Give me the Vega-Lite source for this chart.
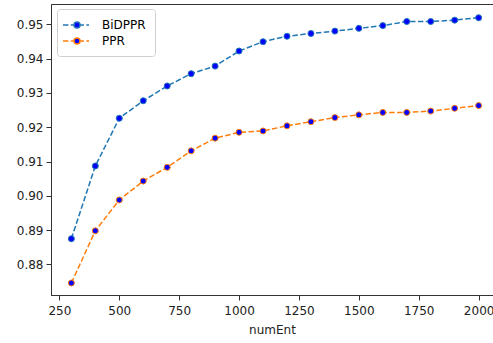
{
  "$schema": "https://vega.github.io/schema/vega-lite/v6.json",
  "width": 442,
  "height": 291,
  "autosize": "none",
  "padding": {"left": 51, "top": 4, "right": 0, "bottom": 48},
  "background": "white",
  "config": {
    "font": "DejaVu Sans",
    "view": {"stroke": "#333", "strokeWidth": 1},
    "axis": {
      "domainColor": "#333",
      "tickColor": "#333",
      "tickSize": 5,
      "labelFontSize": 12,
      "labelColor": "#222",
      "titleFontSize": 12,
      "titleFontWeight": "normal",
      "titleColor": "#222",
      "labelPadding": 3,
      "grid": false
    }
  },
  "data": {
    "values": [
      {"numEnt": 300, "value": 0.8875, "series": "BiDPPR"},
      {"numEnt": 400, "value": 0.9087, "series": "BiDPPR"},
      {"numEnt": 500, "value": 0.9226, "series": "BiDPPR"},
      {"numEnt": 600, "value": 0.9277, "series": "BiDPPR"},
      {"numEnt": 700, "value": 0.9320, "series": "BiDPPR"},
      {"numEnt": 800, "value": 0.9356, "series": "BiDPPR"},
      {"numEnt": 900, "value": 0.9378, "series": "BiDPPR"},
      {"numEnt": 1000, "value": 0.9422, "series": "BiDPPR"},
      {"numEnt": 1100, "value": 0.9449, "series": "BiDPPR"},
      {"numEnt": 1200, "value": 0.9465, "series": "BiDPPR"},
      {"numEnt": 1300, "value": 0.9473, "series": "BiDPPR"},
      {"numEnt": 1400, "value": 0.9480, "series": "BiDPPR"},
      {"numEnt": 1500, "value": 0.9488, "series": "BiDPPR"},
      {"numEnt": 1600, "value": 0.9496, "series": "BiDPPR"},
      {"numEnt": 1700, "value": 0.9508, "series": "BiDPPR"},
      {"numEnt": 1800, "value": 0.9508, "series": "BiDPPR"},
      {"numEnt": 1900, "value": 0.9512, "series": "BiDPPR"},
      {"numEnt": 2000, "value": 0.9519, "series": "BiDPPR"},
      {"numEnt": 300, "value": 0.8746, "series": "PPR"},
      {"numEnt": 400, "value": 0.8898, "series": "PPR"},
      {"numEnt": 500, "value": 0.8988, "series": "PPR"},
      {"numEnt": 600, "value": 0.9043, "series": "PPR"},
      {"numEnt": 700, "value": 0.9083, "series": "PPR"},
      {"numEnt": 800, "value": 0.9131, "series": "PPR"},
      {"numEnt": 900, "value": 0.9168, "series": "PPR"},
      {"numEnt": 1000, "value": 0.9185, "series": "PPR"},
      {"numEnt": 1100, "value": 0.9189, "series": "PPR"},
      {"numEnt": 1200, "value": 0.9204, "series": "PPR"},
      {"numEnt": 1300, "value": 0.9216, "series": "PPR"},
      {"numEnt": 1400, "value": 0.9228, "series": "PPR"},
      {"numEnt": 1500, "value": 0.9236, "series": "PPR"},
      {"numEnt": 1600, "value": 0.9243, "series": "PPR"},
      {"numEnt": 1700, "value": 0.9243, "series": "PPR"},
      {"numEnt": 1800, "value": 0.9247, "series": "PPR"},
      {"numEnt": 1900, "value": 0.9255, "series": "PPR"},
      {"numEnt": 2000, "value": 0.9263, "series": "PPR"}
    ]
  },
  "encoding": {
    "x": {
      "field": "numEnt",
      "type": "quantitative",
      "scale": {"domain": [215, 2060], "nice": false, "zero": false},
      "axis": {"values": [250, 500, 750, 1000, 1250, 1500, 1750, 2000], "title": "numEnt", "titlePadding": 8, "labelPadding": 5, "format": "d"}
    },
    "y": {
      "field": "value",
      "type": "quantitative",
      "scale": {"domain": [0.8711, 0.9559], "nice": false, "zero": false},
      "axis": {"values": [0.88, 0.89, 0.90, 0.91, 0.92, 0.93, 0.94, 0.95], "format": ".2f", "title": null}
    },
    "stroke": {
      "field": "series",
      "type": "nominal",
      "scale": {"domain": ["BiDPPR", "PPR"], "range": ["#1f77b4", "#ff7f0e"]},
      "legend": {
        "title": null,
        "orient": "none",
        "legendX": 6,
        "legendY": 5,
        "fillColor": "rgba(255,255,255,0.8)",
        "strokeColor": "#d0d0d0",
        "cornerRadius": 3,
        "padding": 9,
        "labelFontSize": 12,
        "labelColor": "#000",
        "labelOffset": 22,
        "rowPadding": 3,
        "symbolType": "M-1.67,0H-0.77M-0.37,0H0.13M1.23,0H1.83M2.23,0H2.67M1.17,0A0.5,0.5 0 1,1 0.17,0A0.5,0.5 0 1,1 1.17,0Z",
        "symbolSize": 144,
        "symbolFillColor": "#0000ff",
        "symbolStrokeWidth": 1.5,
        "symbolOpacity": 1
      }
    }
  },
  "layer": [
    {"mark": {"type": "line", "strokeDash": [5.5, 2.4], "strokeWidth": 1.5}},
    {"mark": {"type": "circle", "fill": "#0000ff", "size": 36, "strokeWidth": 1, "opacity": 1}}
  ]
}
